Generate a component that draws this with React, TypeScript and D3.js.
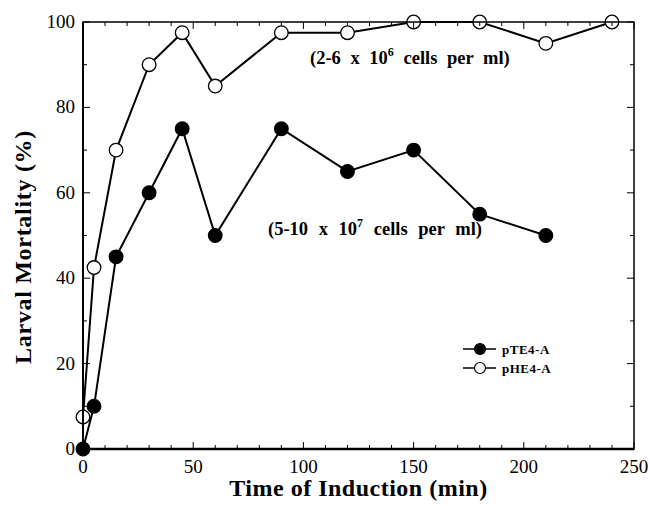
import React from "react";
import * as d3 from "d3";

const timesHE = [0, 5, 15, 30, 45, 60, 90, 120, 150, 180, 210, 240];
const valuesHE = [7.5, 42.5, 70, 90, 97.5, 85, 97.5, 97.5, 100, 100, 95, 100];
const timesTE = [0, 5, 15, 30, 45, 60, 90, 120, 150, 180, 210];
const valuesTE = [0, 10, 45, 60, 75, 50, 75, 65, 70, 55, 50];
const xTicks = [0, 50, 100, 150, 200, 250];
const yTicks = [0, 20, 40, 60, 80, 100];
const seriesNames = ["pTE4-A", "pHE4-A"];

const W = 650;
const H = 506;
const L = 83, R = 634, T = 22, B = 449;
const serif = "'Liberation Serif', 'Times New Roman', serif";

export default function App() {
  const x = d3.scaleLinear().domain([0, 250]).range([L, R]);
  const y = d3.scaleLinear().domain([0, 100]).range([B, T]);
  const line = d3.line<[number, number]>().x((d) => x(d[0])).y((d) => y(d[1]));
  const he: [number, number][] = timesHE.map((t, i) => [t, valuesHE[i]]);
  const te: [number, number][] = timesTE.map((t, i) => [t, valuesTE[i]]);
  const xMinor = d3.range(0, 251, 10);
  const yMinor = d3.range(0, 101, 10);
  const r = 6.8;

  return (
    <svg width={W} height={H} style={{ position: "absolute", left: 0, top: 0, background: "#fff" }} fontFamily={serif}>
      <rect x={0} y={0} width={W} height={H} fill="#fff" />
      <path d={line(he) || ""} fill="none" stroke="#000" strokeWidth={2} />
      <path d={line(te) || ""} fill="none" stroke="#000" strokeWidth={2} />
      {he.map((d, i) => (
        <circle key={"h" + i} cx={x(d[0])} cy={y(d[1])} r={r} fill="#fff" stroke="#000" strokeWidth={1.3} />
      ))}
      {te.map((d, i) => (
        <circle key={"t" + i} cx={x(d[0])} cy={y(d[1])} r={r} fill="#000" stroke="#000" strokeWidth={1.3} />
      ))}
      {/* frame */}
      <rect x={L} y={T} width={R - L} height={B - T} fill="none" stroke="#000" strokeWidth={1.5} />
      <line x1={L} x2={R} y1={B} y2={B} stroke="#000" strokeWidth={2.5} />
      <line x1={L} x2={L} y1={T} y2={B} stroke="#000" strokeWidth={2} />
      {/* ticks */}
      {xMinor.map((v) => {
        const major = v % 50 === 0;
        const len = major ? 7 : 4;
        return (
          <g key={"xt" + v}>
            <line x1={x(v)} x2={x(v)} y1={B} y2={B - len} stroke="#000" strokeWidth={1} />
            <line x1={x(v)} x2={x(v)} y1={T} y2={T + len} stroke="#000" strokeWidth={1} />
          </g>
        );
      })}
      {yMinor.map((v) => {
        const major = v % 20 === 0;
        const len = major ? 7 : 4;
        return (
          <g key={"yt" + v}>
            <line x1={L} x2={L + len} y1={y(v)} y2={y(v)} stroke="#000" strokeWidth={1} />
            <line x1={R} x2={R - len} y1={y(v)} y2={y(v)} stroke="#000" strokeWidth={1} />
          </g>
        );
      })}
      {xTicks.map((v) => (
        <text key={"xl" + v} x={x(v)} y={B + 24} textAnchor="middle" fontSize={19}>
          {v}
        </text>
      ))}
      {yTicks.map((v) => (
        <text key={"yl" + v} x={L - 8} y={y(v) + 6} textAnchor="end" fontSize={19}>
          {v}
        </text>
      ))}
      <text x={(L + R) / 2} y={496} textAnchor="middle" fontSize={24} fontWeight="bold" letterSpacing={0.5}>
        Time of Induction (min)
      </text>
      <text
        transform={`translate(31, 247) rotate(-90)`}
        textAnchor="middle"
        fontSize={24}
        fontWeight="bold"
        letterSpacing={0.7}
      >
        Larval Mortality (%)
      </text>
      {/* annotations */}
      <text x={310} y={64} fontSize={18.5} fontWeight="bold" wordSpacing={5}>
        (2-6 x 10<tspan dy={-8} fontSize={12}>6</tspan>
        <tspan dy={8}> cells per ml)</tspan>
      </text>
      <text x={268} y={235} fontSize={18.5} fontWeight="bold" wordSpacing={6}>
        (5-10 x 10<tspan dy={-8} fontSize={12}>7</tspan>
        <tspan dy={8}> cells per ml)</tspan>
      </text>
      {/* legend */}
      {seriesNames.map((name, i) => {
        const ly = 349 + i * 19;
        return (
          <g key={name}>
            <line x1={463} x2={496} y1={ly} y2={ly} stroke="#000" strokeWidth={1.5} />
            <circle cx={480} cy={ly} r={5.5} fill={i === 0 ? "#000" : "#fff"} stroke="#000" strokeWidth={1.2} />
            <text x={502} y={ly + 4.5} fontSize={13} fontWeight="bold" letterSpacing={0.5}>
              {name}
            </text>
          </g>
        );
      })}
    </svg>
  );
}
